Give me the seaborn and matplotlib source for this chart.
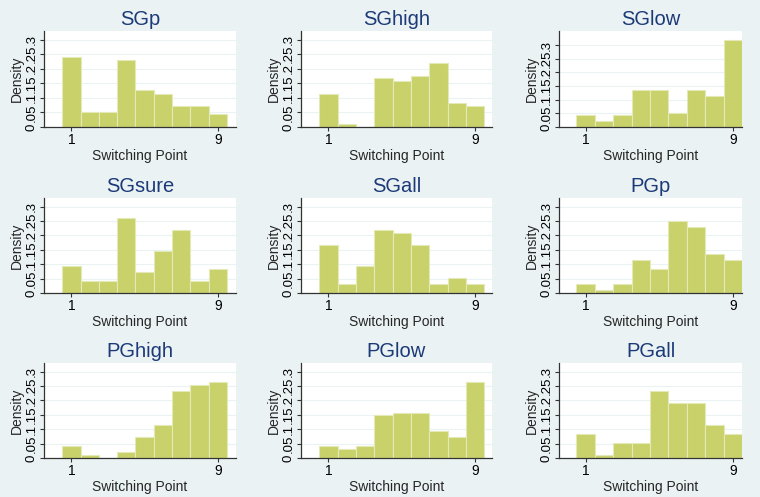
import numpy as np
import pandas as pd
import matplotlib
matplotlib.use("Agg")
import matplotlib.pyplot as plt
import seaborn as sns

# switching points (bins) and density per group
points = [1, 2, 3, 4, 5, 6, 7, 8, 9]
groups = ["SGp", "SGhigh", "SGlow", "SGsure", "SGall", "PGp", "PGhigh", "PGlow", "PGall"]

sgp = [0.240, 0.053, 0.053, 0.229, 0.127, 0.115, 0.073, 0.073, 0.043]
sghigh = [0.114, 0.010, 0.0, 0.167, 0.157, 0.177, 0.220, 0.084, 0.072]
sglow = [0.043, 0.021, 0.043, 0.136, 0.136, 0.053, 0.136, 0.115, 0.320]
sgsure = [0.095, 0.040, 0.040, 0.262, 0.073, 0.147, 0.219, 0.040, 0.084]
sgall = [0.167, 0.031, 0.095, 0.219, 0.209, 0.167, 0.031, 0.052, 0.031]
pgp = [0.031, 0.010, 0.031, 0.115, 0.084, 0.251, 0.230, 0.136, 0.115]
pghigh = [0.042, 0.010, 0.0, 0.021, 0.073, 0.115, 0.233, 0.252, 0.263]
pglow = [0.042, 0.031, 0.042, 0.148, 0.158, 0.158, 0.095, 0.073, 0.263]
pgall = [0.085, 0.010, 0.052, 0.052, 0.233, 0.190, 0.190, 0.116, 0.085]

densities = [sgp, sghigh, sglow, sgsure, sgall, pgp, pghigh, pglow, pgall]

yticks = [0, 0.05, 0.1, 0.15, 0.2, 0.25, 0.3]
ytick_labels = ["0", ".05", ".1", ".15", ".2", ".25", ".3"]
xticks = [1, 9]

BG = "#EAF2F3"
BAR = "#C9D16A"
TITLE = "#1C3A78"

sns.set_theme(style="white")
plt.rcParams["font.family"] = ["Liberation Sans", "DejaVu Sans"]

fig = plt.figure(figsize=(7.6, 4.97), dpi=100)
fig.patch.set_facecolor(BG)

# pixel boxes of the plot regions (x0, x1) per column and (y0, y1) per row
cols = [(44, 236, -0.5, 10.0), (301, 492, -0.5, 9.93), (559, 742, -0.44, 9.5)]
rows = [(31, 127), (198, 293), (363, 458)]
W, H = 760, 497

for k, (name, dens) in enumerate(zip(groups, densities)):
    r, c = divmod(k, 3)
    x0, x1, xlo, xhi = cols[c]
    y0, y1 = rows[r]
    ax = fig.add_axes([x0 / W, 1 - y1 / H, (x1 - x0) / W, (y1 - y0) / H])
    ax.set_facecolor("white")

    df = pd.DataFrame({"point": points, "density": dens})
    sns.histplot(data=df, x="point", weights="density", discrete=True, stat="count",
                 color=BAR, alpha=1, edgecolor="#E4E9B8", linewidth=0.8, ax=ax)

    top = max(0.3, max(dens)) * 1.1
    ax.set_ylim(0, top)
    ax.set_xlim(xlo, xhi)
    ax.set_yticks(yticks)
    ax.set_yticklabels(ytick_labels, rotation=90, va="center", fontsize=9.5)
    ax.set_xticks(xticks)
    ax.set_xticklabels([str(t) for t in xticks], fontsize=10)
    ax.grid(axis="y", color=BG, linewidth=0.8)
    ax.set_axisbelow(True)
    for s in ["top", "right"]:
        ax.spines[s].set_visible(False)
    for s in ["left", "bottom"]:
        ax.spines[s].set_color("#333333")
        ax.spines[s].set_linewidth(0.9)
    ax.tick_params(axis="both", which="both", direction="out", length=3, width=0.8,
                   color="#333333", pad=1.5, labelcolor="black", left=True, bottom=True)
    ax.set_xlabel("Switching Point", fontsize=10, labelpad=1)
    ax.set_ylabel("Density", fontsize=10, labelpad=1)
    ax.set_title(name, color=TITLE, fontsize=14.5, pad=4)

fig.savefig("out.png", dpi=100, facecolor=BG)
